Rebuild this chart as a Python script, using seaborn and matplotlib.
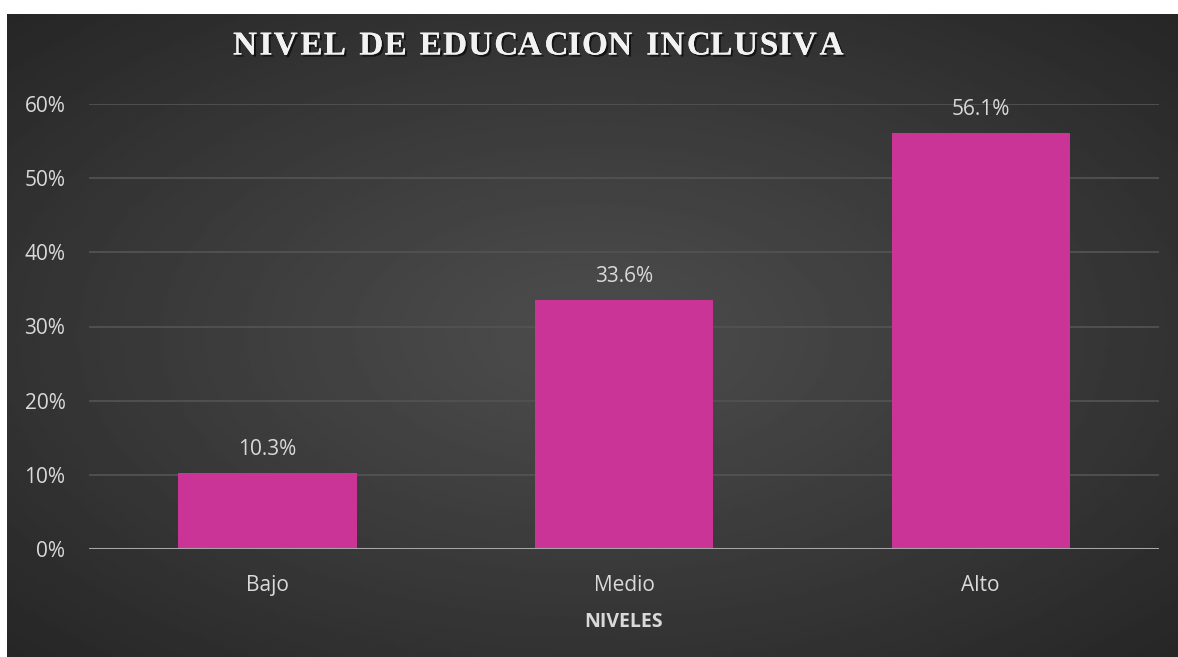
import numpy as np
import pandas as pd
import matplotlib
matplotlib.use("Agg")
import matplotlib.pyplot as plt
import matplotlib.patheffects as pe
from matplotlib.textpath import TextPath
from matplotlib.font_manager import FontProperties
import seaborn as sns

categories = ["Bajo", "Medio", "Alto"]
values = [10.3, 33.6, 56.1]
yticks = [0, 10, 20, 30, 40, 50, 60]
title = "NIVEL DE EDUCACION INCLUSIVA"
xlabel = "NIVELES"

df = pd.DataFrame({"nivel": categories, "pct": values})

sns.set_theme(style="dark")
plt.rcParams["font.family"] = ["Open Sans", "DejaVu Sans"]

W, H = 1178, 657
fig = plt.figure(figsize=(W / 100, H / 100), dpi=100, facecolor="white")

# background panel with radial gradient
bg_left, bg_top = 7, 14
bax = fig.add_axes([bg_left / W, 0, 1 - bg_left / W, (H - bg_top) / H])
bax.set_axis_off()
nx, ny = 400, 220
xx, yy = np.meshgrid(np.linspace(-1, 1, nx), np.linspace(-1, 1, ny))
r = np.sqrt(xx ** 2 + yy ** 2) / np.sqrt(2)
light, dark = 0.30, 0.15
img = light - (light - dark) * np.clip(r, 0, 1) ** 1.1
bax.imshow(img, cmap="gray", vmin=0, vmax=1, aspect="auto", extent=[0, 1, 0, 1], interpolation="bilinear")

# plot area
x0, x1 = 89, 1159
y0, y60 = 549, 104
ax = fig.add_axes([x0 / W, (H - y0) / H, (x1 - x0) / W, (y0 - y60) / H])
ax.patch.set_alpha(0)
sns.barplot(data=df, x="nivel", y="pct", ax=ax, color="#CB3497", width=0.5,
            saturation=1, edgecolor="none")
ax.set_ylim(0, 60)
ax.set_xlim(-0.5, 2.5)
ax.set_yticks(yticks)
ax.set_yticklabels([f"{t}%" for t in yticks])
for t in yticks[1:]:
    ax.axhline(t, color="#525252", lw=1.3, zorder=0)
ax.axhline(0, color="#a6a6a6", lw=2.2, zorder=3)
for s in ax.spines.values():
    s.set_visible(False)
ax.grid(False)
ax.tick_params(axis="both", length=0, colors="#d9d9d9", labelsize=15)
ax.tick_params(axis="y", pad=17)
ax.tick_params(axis="x", pad=19)
ax.set_ylabel("")
ax.set_xlabel(xlabel, color="#d9d9d9", fontsize=14, fontweight="bold", labelpad=11)

for i, v in enumerate(values):
    ax.annotate(f"{v}%", (i, v), xytext=(0, 9), textcoords="offset points",
                ha="center", va="bottom", color="#d9d9d9", fontsize=15)

# letter-spaced serif title
tfs = 24
fp = FontProperties(family="Liberation Serif", weight="bold", size=tfs)
target_left, target_right = 233, 843
widths = []
for ch in title:
    if ch == " ":
        w = TextPath((0, 0), "a a", prop=fp).get_extents().width - TextPath((0, 0), "aa", prop=fp).get_extents().width
    else:
        w = TextPath((0, 0), ch, prop=fp).get_extents().width
    widths.append(w * 100 / 72)
total = sum(widths)
gap = (target_right - target_left - total) / (len(title) - 1)
xpos = target_left
for ch, w in zip(title, widths):
    if ch != " ":
        fig.text(xpos / W, 1 - 46 / H, ch, ha="left", va="center",
                 fontproperties=fp, color="#f2f2f2",
                 path_effects=[pe.withSimplePatchShadow(offset=(1.5, -1.5), shadow_rgbFace="black", alpha=0.6),
                               pe.Normal()])
    xpos += w + gap

fig.savefig("out.png", dpi=100, facecolor="white")
